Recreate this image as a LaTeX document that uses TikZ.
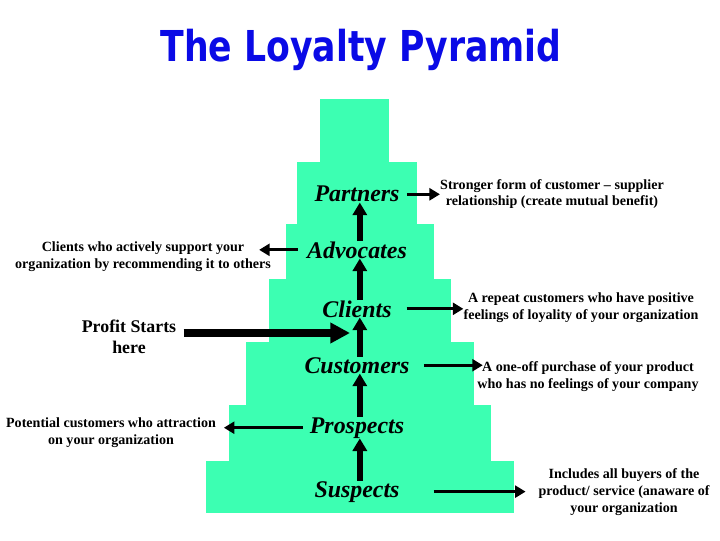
\documentclass[tikz,border=0pt]{standalone}
\usepackage{fontspec}
\usepackage{graphicx}
\usepackage{tikz}
\usetikzlibrary{arrows.meta,positioning,calc}
\setmainfont{Liberation Serif}
\newfontfamily\titlefont{DejaVu Sans Condensed}
\definecolor{pyrgreen}{RGB}{60,255,178}
\definecolor{titleblue}{RGB}{10,10,230}

\tikzset{
  level/.style={inner sep=0pt, font=\fontsize{17}{20}\selectfont\bfseries\itshape},
  note/.style={inner sep=0pt, align=center, font=\fontsize{10}{12}\selectfont\bfseries},
  uparr/.style={line width=3.9pt, -{Triangle[width=10pt,length=9pt]}},
  sidearr/.style={line width=2.1pt, -{Triangle[width=8.5pt,length=7.5pt]}},
  bigarr/.style={line width=5pt, -{Triangle[width=14pt,length=14pt]}}
}

\begin{document}
\begin{tikzpicture}[x=0.025cm, y=0.025cm]
  \useasboundingbox (0,0) rectangle (720,540);

  % Title
  \node[text=titleblue, anchor=base, inner sep=0pt,
        font=\titlefont\bfseries\fontsize{28}{30}\selectfont] (title) at (361,478)
    {\resizebox{285pt}{23pt}{The Loyalty Pyramid}};

  % Pyramid steps
  \foreach \xa/\xb/\yt in {320/389/441, 297/417/378, 286/434/316,
                           269/451/261, 246/474/198, 229/491/135, 206/514/79}{
    \fill[pyrgreen] (\xa,27) rectangle (\xb,\yt);
  }

  % Levels
  \node[level, anchor=base] (partners)  at (357,338) {Partners};
  \node[level, anchor=base] (advocates) at (357,282) {Advocates};
  \node[level, anchor=base] (clients)   at (357,223) {Clients};
  \node[level, anchor=base] (customers) at (357,167) {Customers};
  \node[level, anchor=base] (prospects) at (357,107) {Prospects};
  \node[level, anchor=base] (suspects)  at (357,43)  {Suspects};

  % Level arrows
  \draw[uparr] ([xshift=2pt]suspects.north)  -- ([xshift=2pt]prospects.south);
  \draw[uparr] ([xshift=2pt]prospects.north) -- ([xshift=2pt]customers.south);
  \draw[uparr] ([xshift=2pt]customers.north) -- ([xshift=2pt]clients.south);
  \draw[uparr] ([xshift=2pt]clients.north)   -- ([xshift=2pt]advocates.south);
  \draw[uparr] ([xshift=2pt]advocates.north) -- ([xshift=2pt]partners.south);

  % Notes right
  \node[note] (partnersnote) at (552,346)
    {Stronger form of customer -- supplier\\relationship (create mutual benefit)};
  \node[note] (clientsnote) at (581,232)
    {A repeat customers who have positive\\feelings of loyality of your organization};
  \node[note] (customersnote) at (588,163)
    {A one-off purchase of your product\\who has no feelings of your company};
  \node[note] (suspectsnote) at (624,48)
    {Includes all buyers of the\\product/ service (anaware of\\your organization};

  % Notes left
  \node[note] (advocatesnote) at (143,283)
    {Clients who actively support your\\organization by recommending it to others};
  \node[note] (prospectsnote) at (111,107)
    {Potential customers who attraction\\on your organization};
  \node[inner sep=0pt, align=center, font=\fontsize{12.7}{15}\selectfont\bfseries]
    (profit) at (129,203) {Profit Starts\\here};
  \coordinate (profitend) at (350,207);

  % Side arrows
  \draw[sidearr, shorten <=5pt] (partners.east) -- (partners.east -| partnersnote.west);
  \draw[sidearr, shorten <=10.5pt] (clients.east) -- (clients.east -| clientsnote.west);
  \draw[sidearr, shorten <=10pt, shorten >=-4pt] (customers.east) -- (customers.east -| customersnote.west);
  \draw[sidearr, shorten <=24pt, shorten >=9pt] (suspects.east) -- (suspects.east -| suspectsnote.west);
  \draw[sidearr, shorten <=6.5pt, shorten >=-8.5pt] (advocates.west) -- (advocates.west -| advocatesnote.east);
  \draw[sidearr, shorten <=5pt, shorten >=5.5pt] (prospects.west) -- (prospects.west -| prospectsnote.east);
  \draw[bigarr, shorten <=5pt] (profit.east |- profitend) -- (profitend);
\end{tikzpicture}
\end{document}
